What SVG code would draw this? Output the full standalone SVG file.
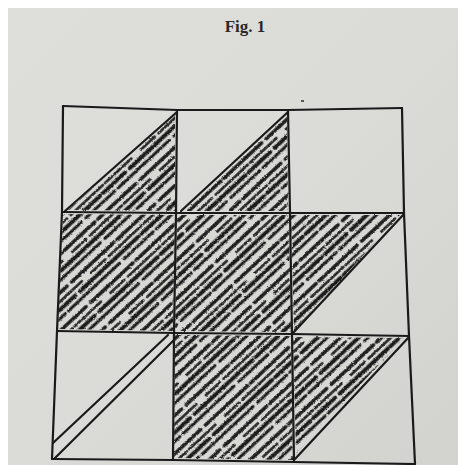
<svg xmlns="http://www.w3.org/2000/svg" width="465" height="465" viewBox="0 0 465 465">
  <defs>
    <linearGradient id="paper" x1="0" y1="0" x2="1" y2="1">
      <stop offset="0" stop-color="#dededa"/>
      <stop offset="0.5" stop-color="#dbdbd7"/>
      <stop offset="1" stop-color="#d2d2ce"/>
    </linearGradient>
    <pattern id="hatch" width="120" height="28" patternUnits="userSpaceOnUse" patternTransform="rotate(-43)">
      <rect width="120" height="28" fill="#d8d8d4"/>
      <g stroke="#1c1c1c" fill="none" stroke-linecap="round">
        <line x1="0" y1="3" x2="120" y2="3" stroke-width="3.4" stroke-dasharray="38 4 52 6 20 0"/>
        <line x1="0" y1="9.5" x2="120" y2="9.5" stroke-width="2.6" stroke-dasharray="20 5 44 3 36 12"/>
        <line x1="0" y1="15.5" x2="120" y2="15.5" stroke-width="3.8" stroke-dasharray="60 4 30 6 20 0"/>
        <line x1="0" y1="22" x2="120" y2="22" stroke-width="2.8" stroke-dasharray="28 6 40 4 42 0"/>
      </g>
    </pattern>
    <filter id="rough" x="-5%" y="-5%" width="110%" height="110%">
      <feTurbulence type="fractalNoise" baseFrequency="0.5" numOctaves="2" seed="3" result="n"/>
      <feDisplacementMap in="SourceGraphic" in2="n" scale="2.5" xChannelSelector="R" yChannelSelector="G"/>
    </filter>
    <style>
      .ln { stroke: #1a1a1a; stroke-width: 2.2; fill: none; stroke-linecap: round; stroke-linejoin: round; }
      .sh { fill: url(#hatch); filter: url(#rough); }
      .title { font-family: "Liberation Serif", "DejaVu Serif", serif; font-weight: bold; font-size: 17px; fill: #2a2a2a; }
    </style>
  </defs>

  <rect width="465" height="465" fill="#ffffff"/>
  <rect x="8" y="8" width="450" height="457" fill="url(#paper)"/>

  <text class="title" x="245" y="32" text-anchor="middle">Fig. 1</text>
  <line x1="301" y1="101" x2="304" y2="101" stroke="#2a2a2a" stroke-width="1.5"/>

  <!-- shaded regions -->
  <g id="cell-r1c1"><polygon class="sh" points="68,210 175,115 175,211"/></g>
  <g id="cell-r1c2"><polygon class="sh" points="184,211 287,115 288,211"/></g>
  <g id="cell-r1c3"/>
  <g id="cell-r2c1"><polygon class="sh" points="63,214 175,215 173,331 58,329"/></g>
  <g id="cell-r2c2"><polygon class="sh" points="177,215 289,215 291,332 175,331"/></g>
  <g id="cell-r2c3"><polygon class="sh" points="291,215 400,215 294,331"/></g>
  <g id="cell-r3c1"/>
  <g id="cell-r3c2"><polygon class="sh" points="175,335 291,336 293,460 174,458"/></g>
  <g id="cell-r3c3"><polygon class="sh" points="293,337 404,338 296,453"/></g>

  <!-- grid and diagonals -->
  <g id="connectors" class="ln">
    <polyline points="63,106 177,110 288,110 402,108"/>
    <polyline points="62,212 176,213 290,213 404,213"/>
    <polyline points="57,331 174,333 292,334 409,336"/>
    <polyline points="52,459 173,460 294,462 415,464"/>
    <polyline points="63,106 62,212 57,331 52,459"/>
    <polyline points="177,110 176,213 174,333 173,460"/>
    <polyline points="288,110 290,213 292,334 294,462"/>
    <polyline points="402,108 404,213 409,336 415,464"/>
    <line x1="65" y1="211" x2="177" y2="112"/>
    <line x1="181" y1="211" x2="288" y2="112"/>
    <line x1="293" y1="333" x2="404" y2="214"/>
    <line x1="53" y1="443" x2="168" y2="335"/>
    <line x1="55" y1="458" x2="174" y2="340"/>
    <line x1="295" y1="459" x2="409" y2="337"/>
  </g>
</svg>
